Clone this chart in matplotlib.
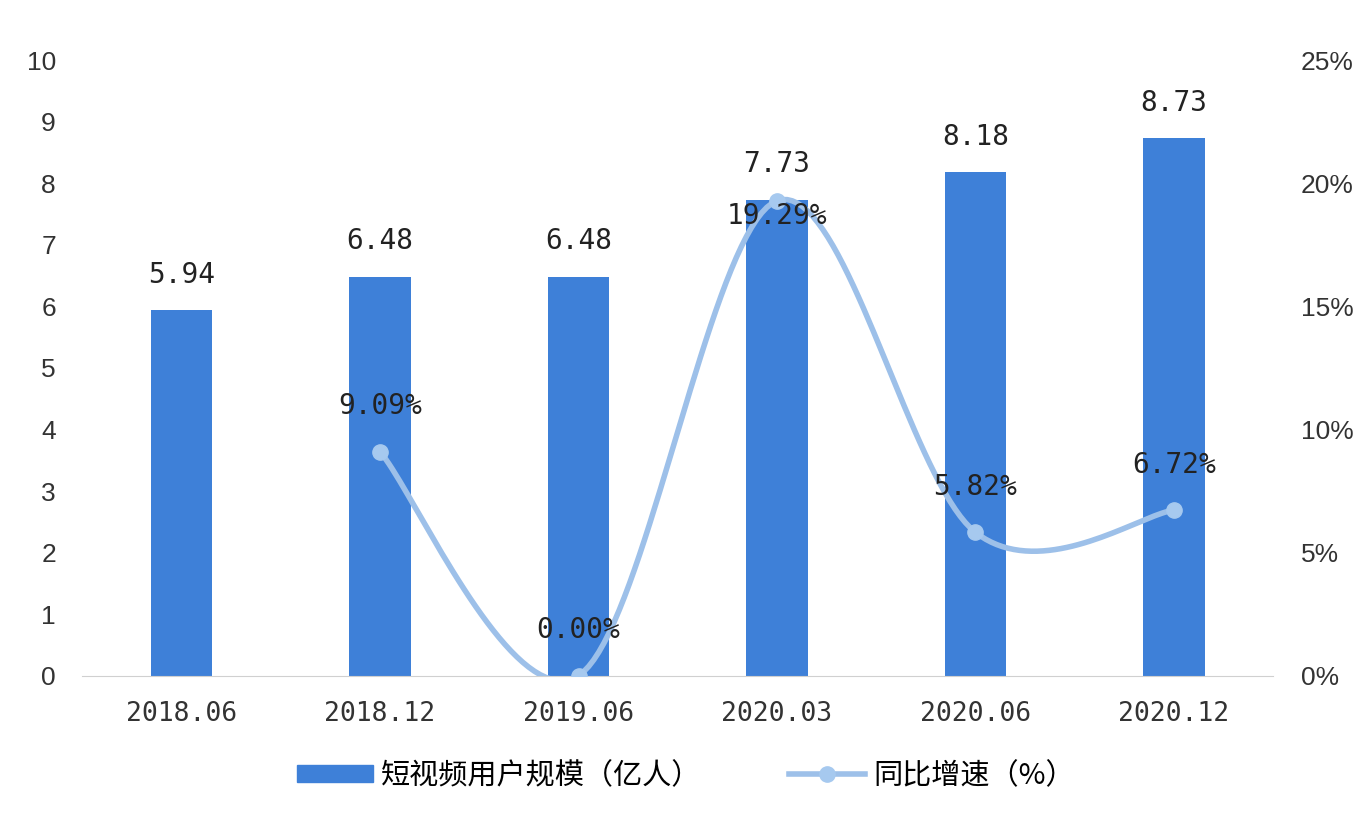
import numpy as np
import matplotlib
matplotlib.use("Agg")
import matplotlib.pyplot as plt
from matplotlib.lines import Line2D
from matplotlib.patches import Patch

categories = ["2018.06", "2018.12", "2019.06", "2020.03", "2020.06", "2020.12"]
users = [5.94, 6.48, 6.48, 7.73, 8.18, 8.73]
growth = [None, 9.09, 0.00, 19.29, 5.82, 6.72]

bar_color = "#3e80d8"
line_color = "#9dc0e9"
mono = ["DejaVu Sans Mono"]
cjk = ["Noto Sans CJK SC", "DejaVu Sans"]

plt.rcParams["font.family"] = ["Liberation Sans", "DejaVu Sans"]


def smooth(xs, ys, n=40):
    # excel-style smoothed line (bezier through points)
    xs = np.asarray(xs, float)
    ys = np.asarray(ys, float)
    px = np.concatenate([[xs[0]], xs, [xs[-1]]])
    py = np.concatenate([[ys[0]], ys, [ys[-1]]])
    outx, outy = [], []
    t = np.linspace(0, 1, n)
    for i in range(1, len(px) - 2):
        p0 = np.array([px[i], py[i]])
        p3 = np.array([px[i + 1], py[i + 1]])
        p1 = p0 + (np.array([px[i + 1], py[i + 1]]) - np.array([px[i - 1], py[i - 1]])) / 6
        p2 = p3 - (np.array([px[i + 2], py[i + 2]]) - np.array([px[i], py[i]])) / 6
        b = ((1 - t) ** 3)[:, None] * p0 + (3 * (1 - t) ** 2 * t)[:, None] * p1 \
            + (3 * (1 - t) * t ** 2)[:, None] * p2 + (t ** 3)[:, None] * p3
        outx.extend(b[:, 0])
        outy.extend(b[:, 1])
    return np.array(outx), np.array(outy)


fig = plt.figure(figsize=(13.72, 8.14), dpi=100)
ax = fig.add_axes([0.06, 0.17, 0.868, 0.756])
x = np.arange(len(categories))

ax.bar(x, users, width=0.31, color=bar_color, zorder=2)
for xi, v in zip(x, users):
    ax.text(xi, v + 0.35, f"{v:.2f}", ha="center", va="bottom",
            fontsize=20, family=mono, color="#222222", zorder=5)

ax.set_xlim(-0.5, len(categories) - 0.5)
ax.set_ylim(0, 10)
ax.set_yticks(range(0, 11))
ax.set_xticks(x)
ax.set_xticklabels(categories, family=mono, fontsize=19, color="#333333")
ax.tick_params(axis="y", labelsize=19, colors="#333333", length=0, pad=19)
ax.tick_params(axis="x", length=0, pad=18)
for s in ["top", "right", "left"]:
    ax.spines[s].set_visible(False)
ax.spines["bottom"].set_color("#d0d0d0")

ax2 = ax.twinx()
ax2.set_ylim(0, 25)
ax2.set_yticks(range(0, 26, 5))
ax2.set_yticklabels([f"{v}%" for v in range(0, 26, 5)])
ax2.tick_params(axis="y", labelsize=19, colors="#333333", length=0, pad=20)
for s in ax2.spines.values():
    s.set_visible(False)

gx = [xi for xi, g in zip(x, growth) if g is not None]
gy = [g for g in growth if g is not None]
sx, sy = smooth(gx, gy)
ax2.plot(sx, sy, color=line_color, lw=4, solid_capstyle="round", zorder=3)
ax2.plot(gx, gy, "o", color="#a6c9ef", ms=11, zorder=4)
for xi, g in zip(gx, gy):
    dy = -0.6 if g > 15 else 1.85
    ax2.text(xi, g + dy, f"{g:.2f}%", ha="center", va="center",
             fontsize=20, family=mono, color="#222222", zorder=6)

handles = [Patch(color=bar_color),
           Line2D([], [], color=line_color, lw=4, marker="o", ms=11,
                  markerfacecolor="#a6c9ef", markeredgecolor="#a6c9ef")]
labels = ["短视频用户规模（亿人）", "同比增速（%）"]
fig.legend(handles, labels, loc="center", bbox_to_anchor=(0.5, 0.047), ncol=2,
           frameon=False, prop={"family": cjk, "size": 21}, handlelength=2.6,
           handleheight=0.5, columnspacing=3, handletextpad=0.3)

fig.savefig("out.png", dpi=100, facecolor="white")
